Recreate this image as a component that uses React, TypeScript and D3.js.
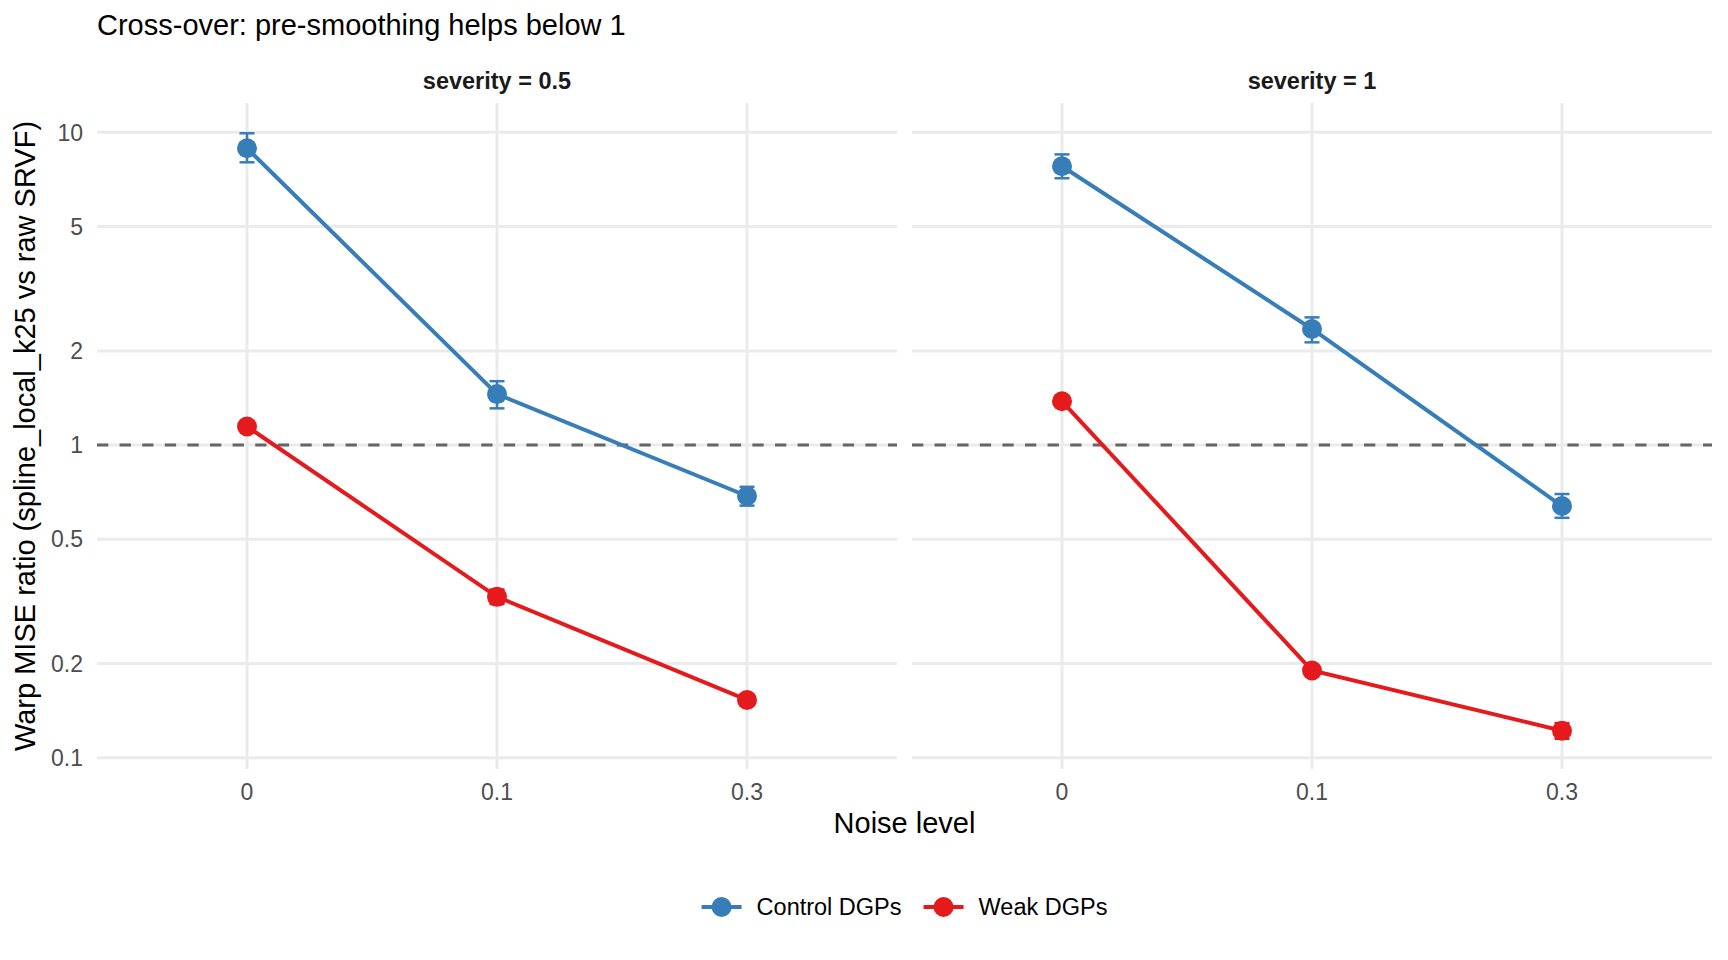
import React, { useRef, useEffect } from 'react';
import * as d3 from 'd3';

// facet + x categories
const severities = ['0.5', '1'];
const noiseLevels = ['0', '0.1', '0.3'];

// Control DGPs, severity = 0.5
const controlMean05 = [8.89, 1.455, 0.687];
const controlLo05 = [8.02, 1.31, 0.64];
const controlHi05 = [9.93, 1.6, 0.735];
// Weak DGPs, severity = 0.5
const weakMean05 = [1.146, 0.327, 0.153];
const weakLo05 = [1.12, 0.31, 0.147];
const weakHi05 = [1.17, 0.345, 0.159];
// Control DGPs, severity = 1
const controlMean1 = [7.79, 2.35, 0.638];
const controlLo1 = [7.13, 2.13, 0.585];
const controlHi1 = [8.5, 2.56, 0.697];
// Weak DGPs, severity = 1
const weakMean1 = [1.38, 0.19, 0.122];
const weakLo1 = [1.35, 0.185, 0.115];
const weakHi1 = [1.41, 0.195, 0.129];

const yBreaks = [0.1, 0.2, 0.5, 1, 2, 5, 10];
const seriesNames = ['Control DGPs', 'Weak DGPs'];
const seriesColors = ['#377EB8', '#E41A1C'];

const W = 1728;
const H = 960;
const FONT = '"Liberation Sans", Arial, Helvetica, sans-serif';

interface Pt {
    x: string;
    mean: number;
    lo: number;
    hi: number;
}

const build = (m: number[], lo: number[], hi: number[]): Pt[] =>
    noiseLevels.map((x, i) => ({ x, mean: m[i], lo: lo[i], hi: hi[i] }));

const panels = [
    [build(controlMean05, controlLo05, controlHi05), build(weakMean05, weakLo05, weakHi05)],
    [build(controlMean1, controlLo1, controlHi1), build(weakMean1, weakLo1, weakHi1)],
];

const App: React.FC = () => {
    const svgRef = useRef<SVGSVGElement | null>(null);

    useEffect(() => {
        document.body.style.margin = '0';
        if (!svgRef.current) return;
        const svg = d3.select(svgRef.current);
        svg.selectAll('*').remove();

        const panelTop = 103;
        const panelBottom = 769;
        const panelLefts = [97, 912];
        const panelWidth = 800;

        // log y with ggplot-style 5% expansion
        const allLo = panels.flat(2).map((d) => Math.log10(d.lo));
        const allHi = panels.flat(2).map((d) => Math.log10(d.hi));
        const lmin = d3.min(allLo)!;
        const lmax = d3.max(allHi)!;
        const pad = (lmax - lmin) * 0.05;
        const y = d3
            .scaleLog()
            .domain([Math.pow(10, lmin - pad), Math.pow(10, lmax + pad)])
            .range([panelBottom, panelTop]);

        // title
        svg.append('text')
            .attr('x', 97)
            .attr('y', 35)
            .attr('font-family', FONT)
            .attr('font-size', 29)
            .attr('fill', '#000')
            .text('Cross-over: pre-smoothing helps below 1');

        panelLefts.forEach((left, pi) => {
            const x = d3
                .scalePoint<string>()
                .domain(noiseLevels)
                .range([left, left + panelWidth])
                .padding(0.6);
            const g = svg.append('g');

            // grid
            g.selectAll('.hg')
                .data(yBreaks)
                .enter()
                .append('line')
                .attr('x1', left)
                .attr('x2', left + panelWidth)
                .attr('y1', (d) => y(d))
                .attr('y2', (d) => y(d))
                .attr('stroke', '#EBEBEB')
                .attr('stroke-width', 3);
            g.selectAll('.vg')
                .data(noiseLevels)
                .enter()
                .append('line')
                .attr('x1', (d) => x(d)!)
                .attr('x2', (d) => x(d)!)
                .attr('y1', panelTop)
                .attr('y2', panelBottom)
                .attr('stroke', '#EBEBEB')
                .attr('stroke-width', 3);

            // reference line at 1
            g.append('line')
                .attr('x1', left)
                .attr('x2', left + panelWidth)
                .attr('y1', y(1))
                .attr('y2', y(1))
                .attr('stroke', '#666666')
                .attr('stroke-width', 2.8)
                .attr('stroke-dasharray', '11.3 11.3');

            // strip label
            g.append('text')
                .attr('x', left + panelWidth / 2)
                .attr('y', 89)
                .attr('text-anchor', 'middle')
                .attr('font-family', FONT)
                .attr('font-weight', 'bold')
                .attr('font-size', 23.5)
                .attr('fill', '#1A1A1A')
                .text(`severity = ${severities[pi]}`);

            // x tick labels
            g.selectAll('.xt')
                .data(noiseLevels)
                .enter()
                .append('text')
                .attr('x', (d) => x(d)!)
                .attr('y', 800)
                .attr('text-anchor', 'middle')
                .attr('font-family', FONT)
                .attr('font-size', 23)
                .attr('fill', '#4D4D4D')
                .text((d) => d);

            const capHalf = x.step() * 0.03;
            const line = d3
                .line<Pt>()
                .x((d) => x(d.x)!)
                .y((d) => y(d.mean));

            panels[pi].forEach((series, si) => {
                const col = seriesColors[si];
                g.append('path')
                    .datum(series)
                    .attr('d', line)
                    .attr('fill', 'none')
                    .attr('stroke', col)
                    .attr('stroke-width', 4);
                const eb = g
                    .selectAll(`.eb${si}`)
                    .data(series)
                    .enter()
                    .append('g');
                eb.append('line')
                    .attr('x1', (d) => x(d.x)!)
                    .attr('x2', (d) => x(d.x)!)
                    .attr('y1', (d) => y(d.lo))
                    .attr('y2', (d) => y(d.hi))
                    .attr('stroke', col)
                    .attr('stroke-width', 2.5);
                ['lo', 'hi'].forEach((k) => {
                    eb.append('line')
                        .attr('x1', (d) => x(d.x)! - capHalf)
                        .attr('x2', (d) => x(d.x)! + capHalf)
                        .attr('y1', (d) => y((d as any)[k]))
                        .attr('y2', (d) => y((d as any)[k]))
                        .attr('stroke', col)
                        .attr('stroke-width', 2.5);
                });
                g.selectAll(`.pt${si}`)
                    .data(series)
                    .enter()
                    .append('circle')
                    .attr('cx', (d) => x(d.x)!)
                    .attr('cy', (d) => y(d.mean))
                    .attr('r', 10)
                    .attr('fill', col);
            });
        });

        // y tick labels
        svg.selectAll('.yt')
            .data(yBreaks)
            .enter()
            .append('text')
            .attr('x', 83)
            .attr('y', (d) => y(d))
            .attr('dy', '0.36em')
            .attr('text-anchor', 'end')
            .attr('font-family', FONT)
            .attr('font-size', 23)
            .attr('fill', '#4D4D4D')
            .text((d) => d3.format('~g')(d));

        // axis titles
        svg.append('text')
            .attr('x', (panelLefts[0] + panelLefts[1] + panelWidth) / 2)
            .attr('y', 833)
            .attr('text-anchor', 'middle')
            .attr('font-family', FONT)
            .attr('font-size', 29)
            .attr('fill', '#000')
            .text('Noise level');
        svg.append('text')
            .attr('transform', `translate(35,${(panelTop + panelBottom) / 2}) rotate(-90)`)
            .attr('text-anchor', 'middle')
            .attr('font-family', FONT)
            .attr('font-size', 29)
            .attr('fill', '#000')
            .text('Warp MISE ratio (spline_local_k25 vs raw SRVF)');

        // legend
        const legY = 907;
        const keyW = 40;
        const textGap = 15;
        const itemGap = 22;
        const leg = svg.append('g');
        const widths: number[] = [];
        const items = seriesNames.map((name, i) => {
            const it = leg.append('g');
            it.append('line')
                .attr('x1', 0)
                .attr('x2', keyW)
                .attr('y1', legY)
                .attr('y2', legY)
                .attr('stroke', seriesColors[i])
                .attr('stroke-width', 4);
            it.append('circle')
                .attr('cx', keyW / 2)
                .attr('cy', legY)
                .attr('r', 10)
                .attr('fill', seriesColors[i]);
            const t = it
                .append('text')
                .attr('x', keyW + textGap)
                .attr('y', legY)
                .attr('dy', '0.36em')
                .attr('font-family', FONT)
                .attr('font-size', 23.5)
                .attr('fill', '#000')
                .text(name);
            widths.push(keyW + textGap + (t.node() as SVGTextElement).getComputedTextLength());
            return it;
        });
        const total = d3.sum(widths) + itemGap * (widths.length - 1);
        let cx = (panelLefts[0] + panelLefts[1] + panelWidth) / 2 - total / 2;
        items.forEach((it, i) => {
            it.attr('transform', `translate(${cx},0)`);
            cx += widths[i] + itemGap;
        });
    }, []);

    return (
        <svg
            ref={svgRef}
            width={W}
            height={H}
            viewBox={`0 0 ${W} ${H}`}
            style={{ display: 'block', background: '#fff' }}
        ></svg>
    );
};

export default App;
